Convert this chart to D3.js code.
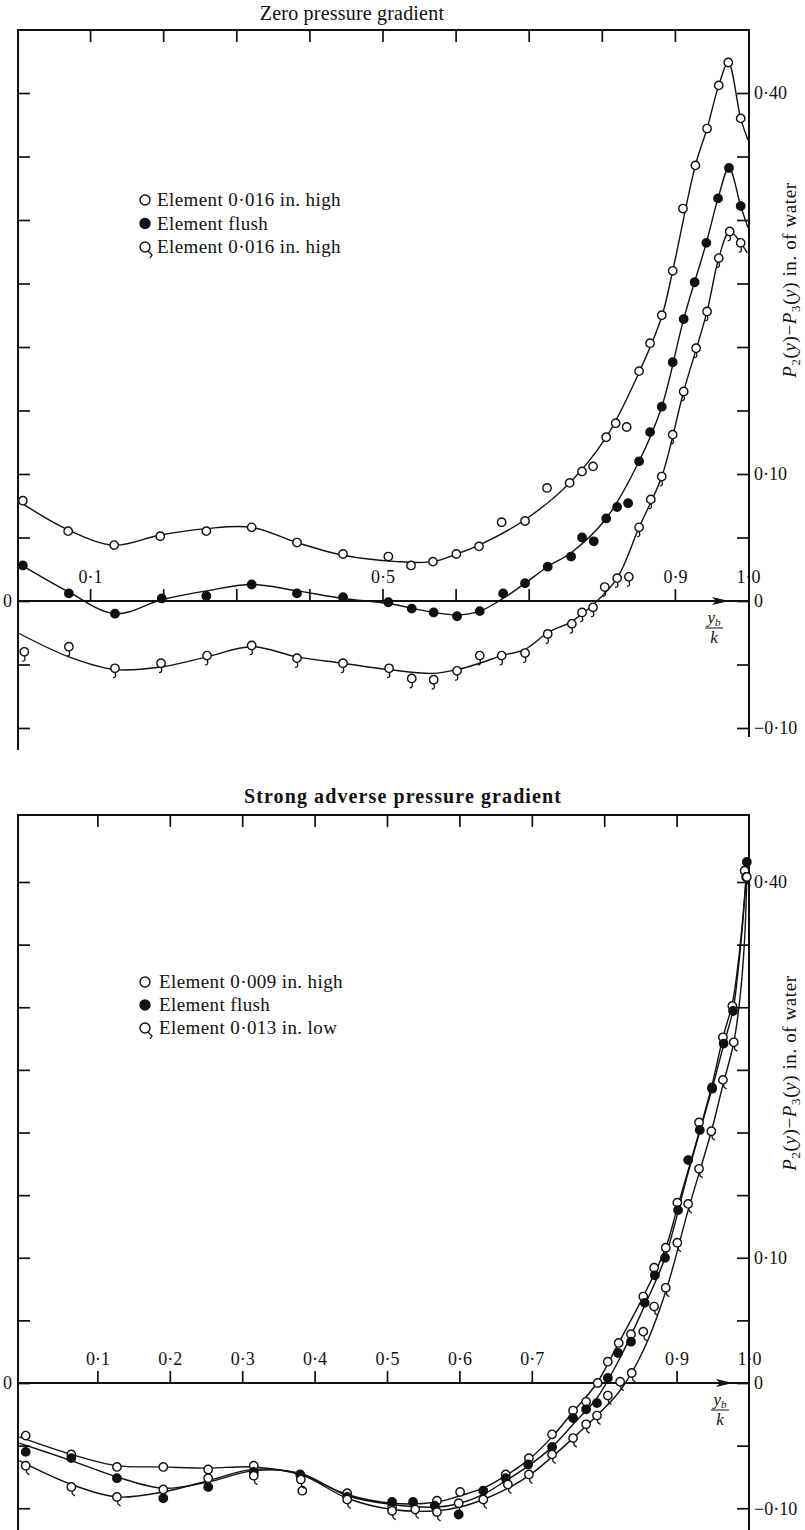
<!DOCTYPE html>
<html>
<head>
<meta charset="utf-8">
<script src="https://cdn.jsdelivr.net/npm/d3@7"></script>
<style>
  html, body { margin: 0; padding: 0; background: #fff; }
  svg text { font-family: "Liberation Serif", "DejaVu Serif", serif; fill: #111; }
</style>
</head>
<body>
<svg id="chart" width="805" height="1530"></svg>
<script>
// ---------- tick values ----------
const frameTicks = [0.1, 0.2, 0.3, 0.4, 0.5, 0.6, 0.7, 0.8, 0.9];
const baseTicks = [0.1, 0.2, 0.3, 0.4, 0.5, 0.6, 0.7, 0.9, 1.0];
const zeroXLabels = [0.1, 0.5, 0.9, 1.0];
const adverseXLabels = [0.1, 0.2, 0.3, 0.4, 0.5, 0.6, 0.7, 0.9, 1.0];
const yTicks = [-0.10, -0.05, 0, 0.05, 0.10, 0.15, 0.20, 0.25, 0.30, 0.35, 0.40];
const yRightLabels = [-0.10, 0, 0.10, 0.40];

// ---------- zero pressure gradient: measured points [y_b/k, P2-P3] ----------
const zeroHighPts = [[0.008,0.079],[0.070,0.055],[0.133,0.044],[0.196,0.051],[0.259,0.055],[0.321,0.058],[0.383,0.046],[0.446,0.037],[0.508,0.035],[0.539,0.028],[0.569,0.031],[0.601,0.037],[0.632,0.043],[0.663,0.062],[0.695,0.063],[0.725,0.089],[0.756,0.093],[0.773,0.102],[0.788,0.106],[0.806,0.129],[0.819,0.140],[0.834,0.137],[0.851,0.181],[0.866,0.203],[0.882,0.225],[0.897,0.260],[0.911,0.309],[0.928,0.343],[0.944,0.372],[0.960,0.406],[0.973,0.424],[0.990,0.380]];
const zeroFlushPts = [[0.008,0.028],[0.071,0.006],[0.134,-0.010],[0.198,0.002],[0.259,0.004],[0.321,0.013],[0.383,0.006],[0.446,0.003],[0.508,-0.001],[0.540,-0.006],[0.570,-0.009],[0.602,-0.012],[0.633,-0.008],[0.665,0.006],[0.695,0.014],[0.726,0.027],[0.758,0.035],[0.773,0.050],[0.789,0.047],[0.806,0.065],[0.821,0.074],[0.836,0.077],[0.851,0.110],[0.866,0.133],[0.882,0.153],[0.897,0.188],[0.912,0.222],[0.927,0.251],[0.943,0.282],[0.959,0.317],[0.974,0.341],[0.990,0.311]];
const zeroHigh2Pts = [[0.010,-0.040],[0.071,-0.036],[0.134,-0.053],[0.197,-0.049],[0.260,-0.043],[0.321,-0.035],[0.383,-0.045],[0.446,-0.049],[0.509,-0.053],[0.540,-0.061],[0.570,-0.062],[0.602,-0.055],[0.633,-0.043],[0.663,-0.043],[0.695,-0.041],[0.726,-0.026],[0.759,-0.018],[0.773,-0.009],[0.788,-0.005],[0.804,0.011],[0.821,0.018],[0.837,0.019],[0.851,0.058],[0.867,0.080],[0.882,0.098],[0.897,0.131],[0.912,0.165],[0.929,0.199],[0.944,0.228],[0.960,0.270],[0.975,0.291],[0.990,0.282]];

// faired curves through each set
const zeroHighFit = [[0.001,0.079],[0.070,0.056],[0.133,0.044],[0.196,0.052],[0.259,0.057],[0.321,0.058],[0.383,0.046],[0.446,0.036],[0.520,0.031],[0.569,0.031],[0.601,0.037],[0.632,0.044],[0.695,0.064],[0.756,0.093],[0.806,0.129],[0.851,0.180],[0.882,0.224],[0.897,0.260],[0.928,0.343],[0.944,0.372],[0.960,0.406],[0.973,0.424],[0.990,0.380],[1.000,0.363]];
const zeroFlushFit = [[0.001,0.030],[0.071,0.007],[0.134,-0.010],[0.198,0.001],[0.259,0.008],[0.321,0.013],[0.383,0.008],[0.446,0.002],[0.508,-0.002],[0.570,-0.009],[0.602,-0.011],[0.633,-0.008],[0.665,0.002],[0.695,0.014],[0.726,0.027],[0.758,0.038],[0.806,0.065],[0.851,0.110],[0.882,0.153],[0.912,0.222],[0.943,0.282],[0.959,0.317],[0.974,0.341],[0.990,0.311],[1.000,0.294]];
const zeroHigh2Fit = [[0.001,-0.025],[0.071,-0.044],[0.134,-0.054],[0.197,-0.052],[0.260,-0.044],[0.321,-0.036],[0.383,-0.044],[0.446,-0.049],[0.509,-0.054],[0.569,-0.057],[0.602,-0.054],[0.633,-0.049],[0.663,-0.043],[0.695,-0.038],[0.726,-0.025],[0.759,-0.016],[0.788,-0.003],[0.821,0.018],[0.851,0.058],[0.882,0.098],[0.912,0.165],[0.944,0.228],[0.960,0.270],[0.975,0.291],[0.990,0.282],[0.999,0.274]];

// ---------- strong adverse pressure gradient ----------
const advHighPts = [[0.001,-0.042],[0.064,-0.057],[0.127,-0.067],[0.191,-0.067],[0.253,-0.069],[0.316,-0.066],[0.383,-0.086],[0.445,-0.088],[0.507,-0.099],[0.569,-0.094],[0.601,-0.087],[0.664,-0.073],[0.696,-0.060],[0.728,-0.041],[0.757,-0.022],[0.775,-0.015],[0.791,0.000],[0.805,0.017],[0.820,0.032],[0.837,0.039],[0.854,0.069],[0.869,0.092],[0.885,0.108],[0.901,0.144],[0.931,0.208],[0.949,0.236],[0.964,0.276],[0.977,0.301],[0.994,0.409],[0.996,0.404]];
const advFlushPts = [[0.001,-0.055],[0.064,-0.060],[0.127,-0.076],[0.191,-0.092],[0.253,-0.083],[0.316,-0.071],[0.380,-0.073],[0.445,-0.091],[0.507,-0.095],[0.536,-0.095],[0.566,-0.098],[0.599,-0.105],[0.633,-0.086],[0.664,-0.076],[0.695,-0.065],[0.728,-0.051],[0.757,-0.028],[0.775,-0.021],[0.790,-0.016],[0.805,0.004],[0.819,0.024],[0.837,0.033],[0.856,0.064],[0.870,0.086],[0.884,0.100],[0.902,0.138],[0.916,0.178],[0.932,0.202],[0.949,0.235],[0.965,0.271],[0.978,0.297],[0.997,0.416]];
const advLowPts = [[0.001,-0.066],[0.064,-0.083],[0.127,-0.091],[0.191,-0.085],[0.253,-0.076],[0.316,-0.074],[0.381,-0.077],[0.445,-0.093],[0.507,-0.102],[0.539,-0.101],[0.569,-0.103],[0.599,-0.096],[0.633,-0.093],[0.667,-0.081],[0.696,-0.073],[0.728,-0.057],[0.757,-0.044],[0.775,-0.033],[0.790,-0.026],[0.805,-0.010],[0.822,0.001],[0.838,0.008],[0.854,0.041],[0.869,0.061],[0.885,0.076],[0.901,0.112],[0.916,0.143],[0.931,0.171],[0.948,0.201],[0.964,0.242],[0.979,0.272],[0.997,0.404]];

const advHighFit = [[-0.008,-0.043],[0.064,-0.057],[0.127,-0.066],[0.191,-0.067],[0.253,-0.068],[0.316,-0.067],[0.380,-0.073],[0.445,-0.089],[0.507,-0.096],[0.569,-0.095],[0.601,-0.090],[0.633,-0.084],[0.664,-0.074],[0.696,-0.061],[0.728,-0.043],[0.757,-0.023],[0.790,0.000],[0.820,0.032],[0.853,0.068],[0.885,0.108],[0.901,0.140],[0.931,0.200],[0.949,0.238],[0.964,0.276],[0.977,0.303],[0.986,0.340],[0.992,0.375],[0.997,0.410]];
const advFlushFit = [[-0.008,-0.048],[0.064,-0.062],[0.127,-0.075],[0.191,-0.084],[0.253,-0.079],[0.316,-0.070],[0.380,-0.072],[0.445,-0.090],[0.507,-0.097],[0.569,-0.099],[0.601,-0.096],[0.633,-0.089],[0.664,-0.078],[0.696,-0.066],[0.728,-0.051],[0.757,-0.033],[0.790,-0.012],[0.820,0.018],[0.856,0.062],[0.884,0.100],[0.916,0.168],[0.949,0.235],[0.965,0.270],[0.978,0.298],[0.986,0.335],[0.992,0.372],[0.997,0.414]];
const advLowFit = [[-0.008,-0.062],[0.064,-0.081],[0.127,-0.091],[0.191,-0.087],[0.253,-0.078],[0.316,-0.069],[0.380,-0.073],[0.445,-0.092],[0.507,-0.101],[0.569,-0.102],[0.601,-0.099],[0.633,-0.093],[0.664,-0.085],[0.696,-0.074],[0.728,-0.059],[0.757,-0.044],[0.790,-0.026],[0.822,-0.006],[0.854,0.026],[0.885,0.073],[0.916,0.138],[0.948,0.201],[0.964,0.238],[0.979,0.272],[0.988,0.310],[0.994,0.355],[0.997,0.404]];

// ---------- panel layout ----------
const panels = [
  {
    title: "Zero pressure gradient", titleBold: false, titleX: 352, titleY: 20, titleSpacing: 0.2,
    x: d3.scaleLinear().domain([0, 1]).range([17, 748]),
    y: d3.scaleLinear().domain([0, 0.4]).range([601, 93]),
    frame: { left: 18, right: 749, top: 30, bottomL: 750, bottomR: 737 },
    arrowX: 729, xLabels: zeroXLabels, tail: "hook",
    legendX: 145, legendY: 200, legendStep: 23.5, legendTextX: 157,
    legend: ["Element 0\u00b7016 in. high", "Element flush", "Element 0\u00b7016 in. high"],
    series: [
      { kind: "open", pts: zeroHighPts, fit: zeroHighFit },
      { kind: "filled", pts: zeroFlushPts, fit: zeroFlushFit },
      { kind: "tailed", pts: zeroHigh2Pts, fit: zeroHigh2Fit }
    ],
    yTitleCenter: 280, fracX: 714
  },
  {
    title: "Strong adverse pressure gradient", titleBold: true, titleX: 403, titleY: 803, titleSpacing: 1.1,
    x: d3.scaleLinear().domain([0, 1]).range([25, 749]),
    y: d3.scaleLinear().domain([0, 0.4]).range([1383, 882]),
    frame: { left: 18, right: 749, top: 815, bottomL: 1530, bottomR: 1530 },
    arrowX: 733, xLabels: adverseXLabels, tail: "kick",
    legendX: 145, legendY: 982, legendStep: 23, legendTextX: 159,
    legend: ["Element 0\u00b7009 in. high", "Element flush", "Element 0\u00b7013 in. low"],
    series: [
      { kind: "open", pts: advHighPts, fit: advHighFit },
      { kind: "filled", pts: advFlushPts, fit: advFlushFit },
      { kind: "tailed", pts: advLowPts, fit: advLowFit }
    ],
    yTitleCenter: 1073, fracX: 720
  }
];

const svg = d3.select("#chart");
const INK = "#111";
const dot = s => s.replace(".", "\u00b7").replace("-", "\u2212");
const fmtX = d => dot(d3.format(".1f")(d));
const fmtY = d => d === 0 ? "0" : dot(d3.format(".2f")(d));

function tailPath(style, r) {
  if (style === "hook") return `M0.3,${r} L0.7,${r + 3} Q0.4,${r + 5.4} -2,${r + 5}`;
  if (style === "kick") return `M0.6,${r} L1,${r + 2.8} L3.6,${r + 4.8}`;
  return `M${r * 0.6},${r * 0.8} L${r + 2},${r + 3} L${r},${r + 6}`; // legend glyph
}

function marker(g, kind, cx, cy, r, tail) {
  const m = g.append("g").attr("transform", `translate(${cx},${cy})`);
  if (kind === "tailed") {
    m.append("path").attr("d", tailPath(tail, r))
      .attr("fill", "none").attr("stroke", INK).attr("stroke-width", 1.3);
  }
  m.append("circle").attr("r", r)
    .attr("fill", kind === "filled" ? INK : "#fff")
    .attr("stroke", INK).attr("stroke-width", 1.4);
}

panels.forEach(p => {
  const g = svg.append("g");
  const { x, y, frame } = p;
  const y0 = y(0);

  // title
  g.append("text").attr("x", p.titleX).attr("y", p.titleY)
    .attr("text-anchor", "middle").attr("font-size", 20)
    .attr("letter-spacing", p.titleSpacing)
    .attr("font-weight", p.titleBold ? "bold" : "normal")
    .text(p.title);

  // frame lines
  const ln = (x1, y1, x2, y2, w) => g.append("line")
    .attr("x1", x1).attr("y1", y1).attr("x2", x2).attr("y2", y2)
    .attr("stroke", INK).attr("stroke-width", w);
  ln(frame.left, frame.top, frame.right, frame.top, 1.8);
  ln(frame.left, frame.top - 0.9, frame.left, frame.bottomL, 2);
  ln(frame.right, frame.top - 0.9, frame.right, frame.bottomR, 2);
  ln(frame.left, y0, frame.right, y0, 1.8);

  // arrow head on the y_b/k axis
  const ax = p.arrowX;
  g.append("path")
    .attr("d", `M${ax},${y0} L${ax - 17},${y0 - 4} L${ax - 13},${y0} L${ax - 17},${y0 + 4} Z`)
    .attr("fill", INK);

  const styleAxis = sel => {
    sel.select(".domain").remove();
    sel.selectAll(".tick line").attr("stroke", INK).attr("stroke-width", 1.7);
    sel.selectAll("text").attr("font-size", 18).attr("font-family", null).attr("fill", INK);
    sel.attr("font-family", null).attr("font-size", null);
  };

  // ticks hanging from the top of the frame
  g.append("g").attr("transform", `translate(0,${frame.top})`)
    .call(d3.axisBottom(x).tickValues(frameTicks).tickSizeInner(12).tickSizeOuter(0).tickFormat(""))
    .call(styleAxis);

  // ticks and labels standing on the zero line
  const xa = g.append("g").attr("transform", `translate(0,${y0})`)
    .call(d3.axisTop(x).tickValues(baseTicks).tickSizeInner(12).tickSizeOuter(0).tickPadding(6)
      .tickFormat(d => p.xLabels.includes(d) ? fmtX(d) : ""))
    .call(styleAxis);
  xa.selectAll(".tick").filter(d => d === 1.0).select("line").remove();

  // left axis: inward ticks, "0" outside
  g.append("g").attr("transform", `translate(${frame.left},0)`)
    .call(d3.axisLeft(y).tickValues(yTicks).tickSizeInner(-12).tickSizeOuter(0).tickPadding(6)
      .tickFormat(d => d === 0 ? "0" : ""))
    .call(styleAxis);

  // right axis: inward ticks, labels outside
  g.append("g").attr("transform", `translate(${frame.right},0)`)
    .call(d3.axisRight(y).tickValues(yTicks).tickSizeInner(-12).tickSizeOuter(0).tickPadding(5)
      .tickFormat(d => yRightLabels.includes(d) ? fmtY(d) : ""))
    .call(styleAxis);

  // y_b / k
  const fx = p.fracX;
  const ft = g.append("text").attr("x", fx).attr("y", y0 + 22).attr("text-anchor", "middle")
    .attr("font-size", 17).attr("font-style", "italic");
  ft.append("tspan").text("y");
  ft.append("tspan").attr("font-size", 11).attr("dy", 3).text("b");
  ln(fx - 9, y0 + 27, fx + 9, y0 + 27, 1);
  g.append("text").attr("x", fx).attr("y", y0 + 42).attr("text-anchor", "middle")
    .attr("font-size", 17).attr("font-style", "italic").text("k");

  // vertical axis title
  const yt = g.append("text")
    .attr("transform", `translate(796,${p.yTitleCenter}) rotate(-90)`)
    .attr("text-anchor", "middle").attr("font-size", 19).attr("letter-spacing", 0.6);
  yt.append("tspan").attr("font-style", "italic").text("P");
  yt.append("tspan").attr("font-size", 13).attr("dy", 4).text("2");
  yt.append("tspan").attr("dy", -4).text("(");
  yt.append("tspan").attr("font-style", "italic").text("y");
  yt.append("tspan").text(")\u2212");
  yt.append("tspan").attr("font-style", "italic").text("P");
  yt.append("tspan").attr("font-size", 13).attr("dy", 4).text("3");
  yt.append("tspan").attr("dy", -4).text("(");
  yt.append("tspan").attr("font-style", "italic").text("y");
  yt.append("tspan").text(") in. of water");

  // faired curves
  const line = d3.line().x(d => x(d[0])).y(d => y(d[1])).curve(d3.curveCatmullRom.alpha(0.5));
  p.series.forEach(s => {
    g.append("path").attr("d", line(s.fit))
      .attr("fill", "none").attr("stroke", INK).attr("stroke-width", 1.4);
  });

  // measured points
  p.series.forEach(s => {
    s.pts.forEach(d => marker(g, s.kind, x(d[0]), y(d[1]), 4.2, p.tail));
  });

  // legend
  p.series.forEach((s, i) => {
    const ly = p.legendY + i * p.legendStep;
    marker(g, s.kind, p.legendX, ly, 5, "legend");
    g.append("text").attr("x", p.legendTextX).attr("y", ly + 6)
      .attr("font-size", 19).attr("letter-spacing", 0.4).text(p.legend[i]);
  });
});
</script>
</body>
</html>
